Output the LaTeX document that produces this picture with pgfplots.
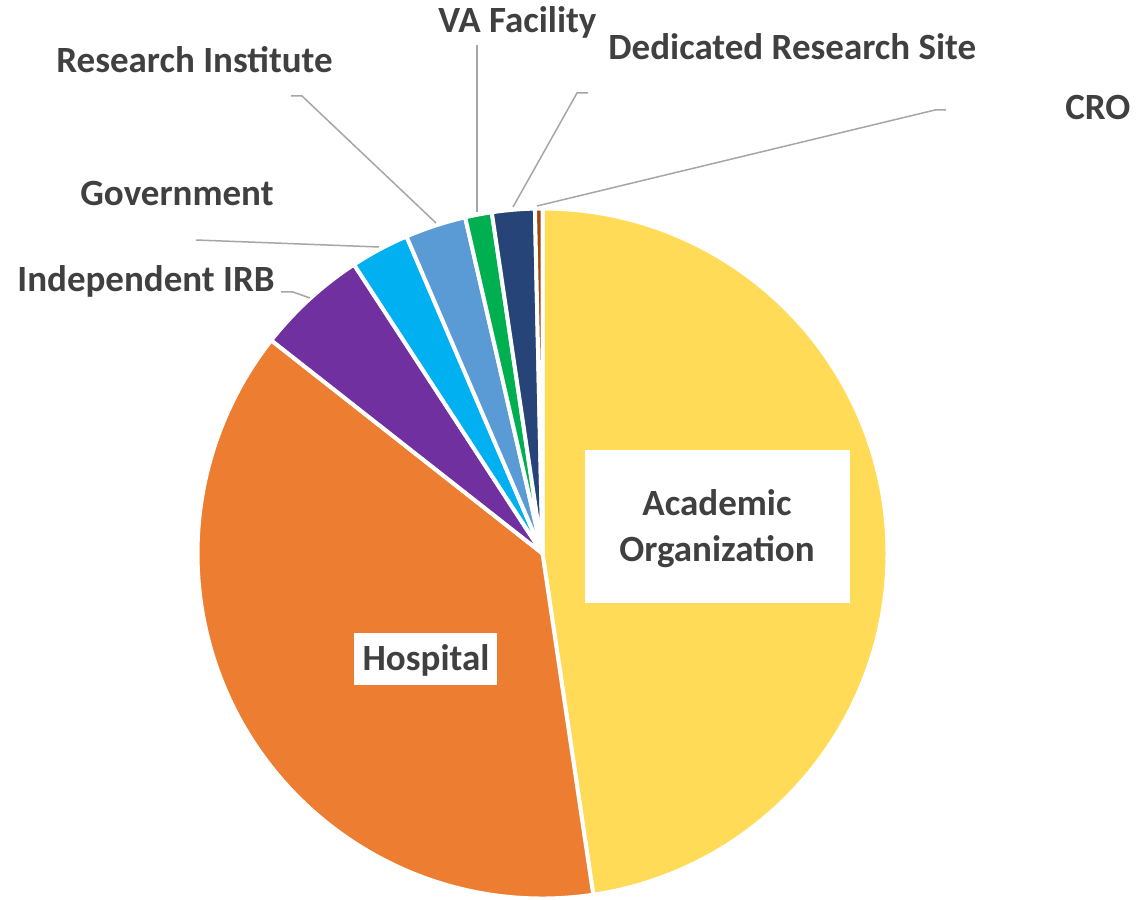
\documentclass[border=0pt]{standalone}
\usepackage{fontspec}
\setmainfont{Carlito}
\usepackage{pgfplots}
\pgfplotsset{compat=1.18}
\definecolor{cAcad}{HTML}{FFDB58}
\definecolor{cHosp}{HTML}{ED7D31}
\definecolor{cIRB}{HTML}{7030A0}
\definecolor{cGov}{HTML}{00B0F0}
\definecolor{cRI}{HTML}{5B9BD5}
\definecolor{cVA}{HTML}{00B050}
\definecolor{cDed}{HTML}{264478}
\definecolor{cCRO}{HTML}{9E480E}
\definecolor{txt}{HTML}{404040}
\definecolor{lead}{HTML}{A6A6A6}
% shares in percent
\def\vAcad{47.65}
\def\vHosp{37.95}
\def\vIRB{5.2}
\def\vGov{2.75}
\def\vRI{2.85}
\def\vVA{1.25}
\def\vDed{2.0}
\def\vCRO{0.35}
\pgfmathsetmacro\aO{90}
\pgfmathsetmacro\aA{\aO-3.6*\vAcad}
\pgfmathsetmacro\aB{\aA-3.6*\vHosp}
\pgfmathsetmacro\aC{\aB-3.6*\vIRB}
\pgfmathsetmacro\aD{\aC-3.6*\vGov}
\pgfmathsetmacro\aE{\aD-3.6*\vRI}
\pgfmathsetmacro\aF{\aE-3.6*\vVA}
\pgfmathsetmacro\aG{\aF-3.6*\vDed}
\pgfmathsetmacro\aH{\aG-3.6*\vCRO}
\newcommand{\slice}[3]{%
  \addplot[fill=#3, draw=white, line width=2pt, line join=round]
    coordinates {(542.5,346.5)} -- ++(#1:172.5pt)
    arc[start angle=#1, end angle=#2, radius=172.5pt] -- cycle;}
\tikzset{
  lab/.style={font=\fontsize{18.5}{22}\selectfont\bfseries, text=txt, inner sep=0pt},
  leader/.style={draw=lead, line width=0.75pt},
}
\begin{document}
\begin{tikzpicture}
\begin{axis}[
  x=0.5pt, y=0.5pt, scale only axis,
  xmin=0, xmax=1136, ymin=0, ymax=900,
  hide axis, clip=false,
]
\coordinate (bl) at (axis cs:0,0);
\coordinate (tr) at (axis cs:1136,900);
\slice{\aO}{\aA}{cAcad}
\slice{\aA}{\aB}{cHosp}
\slice{\aB}{\aC}{cIRB}
\slice{\aC}{\aD}{cGov}
\slice{\aD}{\aE}{cRI}
\slice{\aE}{\aF}{cVA}
\slice{\aF}{\aG}{cDed}
\slice{\aG}{\aH}{cCRO}
% inner label boxes
\fill[white] (axis cs:585,297) rectangle (axis cs:850,450);
\fill[white] (axis cs:354,215) rectangle (axis cs:497,267);
\node[lab, anchor=base] at (axis cs:717,384) {Academic};
\node[lab, anchor=base] at (axis cs:717,338) {Organization};
\node[lab, anchor=base] at (axis cs:426,229) {Hospital};
% outer labels
\node[lab, anchor=base west] at (axis cs:17,608) {Independent IRB};
\node[lab, anchor=base west] at (axis cs:80,694) {Government};
\node[lab, anchor=base west] at (axis cs:56,827) {Research Institute};
\node[lab, anchor=base west] at (axis cs:438,867) {VA Facility};
\node[lab, anchor=base west] at (axis cs:608,840) {Dedicated Research Site};
\node[lab, anchor=base west] at (axis cs:1065,780) {CRO};
% leader lines
\draw[leader] (axis cs:281,608) -- (axis cs:293,608) -- (axis cs:310,602);
\draw[leader] (axis cs:196,660) -- (axis cs:379,653);
\draw[leader] (axis cs:291,804) -- (axis cs:302,804) -- (axis cs:436,677);
\draw[leader] (axis cs:477,855) -- (axis cs:477,688);
\draw[leader] (axis cs:588,807) -- (axis cs:577,807) -- (axis cs:513,693);
\draw[leader] (axis cs:946,790) -- (axis cs:935,790) -- (axis cs:537,694);
\end{axis}
\pgfresetboundingbox
\path (bl) rectangle (tr);
\end{tikzpicture}
\end{document}
